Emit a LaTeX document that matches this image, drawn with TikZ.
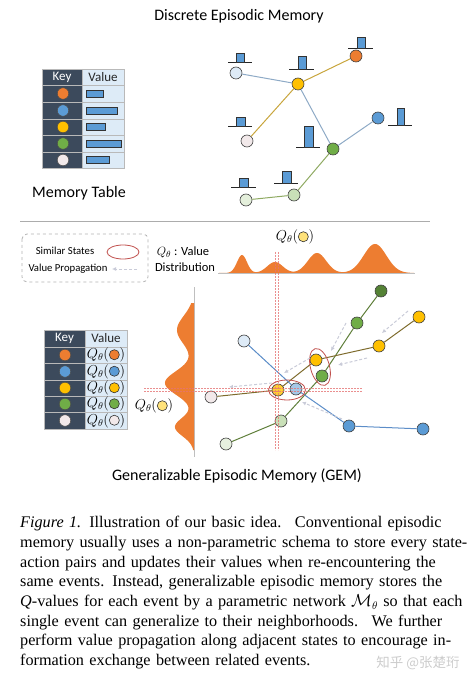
\documentclass[tikz,border=0pt]{standalone}
\usepackage{fontspec}
\setmainfont{Liberation Serif}
\newfontfamily\calib{Carlito}
\newfontfamily\cjkfont{Noto Sans CJK SC}
\usepackage{tikz}
\usetikzlibrary{arrows.meta}

\definecolor{keyorange}{HTML}{ED7D31}
\definecolor{keyblue}{HTML}{5B9BD5}
\definecolor{keyyellow}{HTML}{FFC000}
\definecolor{keygreen}{HTML}{70AD47}
\definecolor{keypale}{HTML}{F2E9EA}
\definecolor{paleblue}{HTML}{DEEBF7}
\definecolor{palegreen}{HTML}{C9E0B8}
\definecolor{darkgreen}{HTML}{548235}
\definecolor{softyellow}{HTML}{FFE27A}
\definecolor{tabledark}{HTML}{3C4A5C}
\definecolor{tablelight}{HTML}{DDEBF7}
\definecolor{linkblue}{HTML}{8EAAC6}
\definecolor{linkyellow}{HTML}{C8A53C}
\definecolor{linkgreen}{HTML}{8FAA62}
\definecolor{chaingreen}{HTML}{5F7F3A}
\definecolor{chainyellow}{HTML}{7E6B2C}
\definecolor{chainblue}{HTML}{5C8DC8}
\definecolor{simred}{HTML}{C0504D}
\definecolor{guidered}{HTML}{E57373}
\definecolor{propgray}{HTML}{C9CBD8}
\definecolor{distorange}{HTML}{ED7D31}

\newcommand{\qdot}[1]{$Q_\theta($\tikz[baseline=-0.6ex]\draw[fill=#1, draw=black!80, line width=0.6pt] (0,0) circle (0.36em);$)$}

\tikzset{
  statenode/.style={circle, draw=black!75, line width=0.6pt, minimum size=12pt, inner sep=0pt},
  keydot/.style={circle, draw=black!70, line width=0.5pt, minimum size=11.5pt, inner sep=0pt},
  valbar/.style={fill=keyblue, draw=black!80, line width=0.5pt},
  histbase/.style={line width=0.9pt, black!85},
  link/.style={line width=1pt},
  prop/.style={draw=propgray, line width=1pt, dash pattern=on 3pt off 2pt, -{Latex[length=4pt,width=4pt]}},
  similar/.style={draw=simred, line width=0.8pt},
  guide/.style={draw=guidered, line width=0.5pt, dash pattern=on 2pt off 1pt, opacity=0.8},
  tablegrid/.style={draw=gray!55, line width=0.8pt},
  heading/.style={font=\calib\fontsize{16}{18}\selectfont},
  cellfont/.style={font=\calib\fontsize{13}{15}\selectfont},
  qfont/.style={font=\fontsize{14}{16}\selectfont},
}

\begin{document}
\begin{tikzpicture}[x=1pt, y=-1pt]
      \useasboundingbox (0,0) rectangle (474,684);

      % discrete episodic memory
      \node[heading] (dtitle) at (239,16) {Discrete Episodic Memory};

      \fill[tabledark] (42,69) rectangle (82,168);
      \fill[tablelight] (82,69) rectangle (124,168);
      \draw[tablegrid] (42,85) -- (124,85);
      \draw[tablegrid] (42,102) -- (124,102);
      \draw[tablegrid] (42,119) -- (124,119);
      \draw[tablegrid] (42,135) -- (124,135);
      \draw[tablegrid] (42,152) -- (124,152);
      \draw[tablegrid] (82,69) -- (82,168);
      \draw[tablegrid] (42,69) rectangle (124,168);
      \node[cellfont, text=white] (tkey) at (62,77) {Key};
      \node[cellfont, text=black!85] (tval) at (103,77) {Value};
      \node[keydot, fill=keyorange] (tk1) at (63,93.5) {};
      \node[keydot, fill=keyblue] (tk2) at (63,110.5) {};
      \node[keydot, fill=keyyellow] (tk3) at (63,127) {};
      \node[keydot, fill=keygreen] (tk4) at (63,143.5) {};
      \node[keydot, fill=keypale] (tk5) at (63,160) {};
      \draw[valbar] (86,90) rectangle (103,97);
      \draw[valbar] (86,107) rectangle (117,114);
      \draw[valbar] (86,123.5) rectangle (105,130.5);
      \draw[valbar] (86,140) rectangle (121,147);
      \draw[valbar] (86,156.5) rectangle (109,163.5);
      \node[heading] (mtable) at (79,193) {Memory Table};

      \node[statenode, fill=paleblue] (ta) at (236,73) {};
      \node[statenode, fill=keyyellow] (ty) at (298,84) {};
      \node[statenode, fill=keyorange] (to) at (356,56) {};
      \node[statenode, fill=keypale] (tp) at (247,141) {};
      \node[statenode, fill=keygreen] (tg) at (333,149) {};
      \node[statenode, fill=keyblue] (tb) at (378,118) {};
      \node[statenode, fill=palegreen] (tl) at (294,195) {};
      \node[statenode, fill=palegreen!50] (tm) at (246,200) {};
      \draw[link, linkblue] (ta) -- (ty);
      \draw[link, linkyellow] (ty) -- (to);
      \draw[link, linkyellow] (ty) -- (tp);
      \draw[link, linkblue] (ty) -- (tg);
      \draw[link, linkblue] (tg) -- (tb);
      \draw[link, linkgreen] (tg) -- (tl);
      \draw[link, linkgreen] (tl) -- (tm);

      \draw[histbase] (228,62) -- (252,62);
      \draw[valbar] (236,62) rectangle (244,53);
      \draw[histbase] (289,69) -- (314,69);
      \draw[valbar] (298,69) rectangle (306,56);
      \draw[histbase] (348,48) -- (373,48);
      \draw[valbar] (357,48) rectangle (365,37);
      \draw[histbase] (228,126) -- (252,126);
      \draw[valbar] (236,126) rectangle (245,117);
      \draw[histbase] (296,147) -- (320,147);
      \draw[valbar] (304,147) rectangle (313,126);
      \draw[histbase] (388,125) -- (412,125);
      \draw[valbar] (397,125) rectangle (404,108);
      \draw[histbase] (231,187) -- (256,187);
      \draw[valbar] (239,187) rectangle (248,178);
      \draw[histbase] (274,183) -- (298,183);
      \draw[valbar] (282,183) rectangle (291,171);

      \draw[gray!65, line width=0.8pt] (20,221) -- (430,221);

      % generalizable episodic memory
      \draw[gray!60, line width=0.8pt, dashed, rounded corners=5pt] (22,234) rectangle (148,282);
      \node[font=\calib\fontsize{10.7}{12}\selectfont] (lsim) at (65,251) {Similar States};
      \draw[similar] (123,252) ellipse [x radius=16, y radius=7];
      \node[font=\calib\fontsize{10.7}{12}\selectfont] (lprop) at (68,269) {Value Propagation};
      \coordinate (lps) at (137,269);
      \coordinate (lpe) at (112,269);
      \draw[prop] (lps) -- (lpe);
      \node[font=\calib\fontsize{12.5}{14}\selectfont] (qv) at (183,252) {$Q_\theta$ : Value};
      \node[font=\calib\fontsize{12.5}{14}\selectfont] (qd) at (185,267) {Distribution};

      \draw[gray!50, line width=0.6pt] (218,273) -- (415,273);
      \fill[distorange] plot[domain=219:414, samples=220] (\x, {273 - 18*exp(-min(((\x-242)/7)^2,9)) - 11*exp(-min(((\x-275)/11)^2,9)) - 20*exp(-min(((\x-317)/13)^2,9)) - 29*exp(-min(((\x-375)/16)^2,9))}) -- cycle;
      \node[qfont] (qtop) at (295,237) {\qdot{softyellow}};

      \draw[gray!50, line width=0.6pt] (194,287) -- (194,457);
      \fill[distorange] plot[domain=303:450, samples=200] ({194 - 17*exp(-min(((\x-330)/20)^2,9)) - 29*exp(-min(((\x-383)/17)^2,9)) - 19*exp(-min(((\x-427)/13)^2,9))}, \x) -- (194,450) -- (194,303) -- cycle;
      \node[qfont] (qleft) at (154,406) {\qdot{softyellow}};

      \fill[tabledark] (44,330) rectangle (85,429);
      \fill[tablelight] (85,330) rectangle (127,429);
      \draw[tablegrid] (44,347) -- (127,347);
      \draw[tablegrid] (44,363) -- (127,363);
      \draw[tablegrid] (44,380) -- (127,380);
      \draw[tablegrid] (44,396) -- (127,396);
      \draw[tablegrid] (44,412) -- (127,412);
      \draw[tablegrid] (85,330) -- (85,429);
      \draw[tablegrid] (44,330) rectangle (127,429);
      \node[cellfont, text=white] (bkey) at (64.5,338.5) {Key};
      \node[cellfont, text=black!85] (bval) at (106,338.5) {Value};
      \node[keydot, fill=keyorange] (bk1) at (65,355) {};
      \node[keydot, fill=keyblue] (bk2) at (65,371.5) {};
      \node[keydot, fill=keyyellow] (bk3) at (65,388) {};
      \node[keydot, fill=keygreen] (bk4) at (65,404) {};
      \node[keydot, fill=keypale] (bk5) at (65,420.5) {};
      \node[qfont] (bv1) at (106,355) {\qdot{keyorange}};
      \node[qfont] (bv2) at (106,371.5) {\qdot{keyblue}};
      \node[qfont] (bv3) at (106,388) {\qdot{keyyellow}};
      \node[qfont] (bv4) at (106,404) {\qdot{keygreen}};
      \node[qfont] (bv5) at (106,420.5) {\qdot{keypale}};

      \node[statenode, fill=darkgreen] (bdg) at (381,291) {};
      \node[statenode, fill=keygreen] (bg2) at (357,323) {};
      \node[statenode, fill=keyyellow] (by1) at (419,317) {};
      \node[statenode, fill=keyyellow] (by2) at (379,346) {};
      \node[statenode, fill=paleblue] (blb) at (244,341) {};
      \node[statenode, fill=keyyellow] (by3) at (316,360) {};
      \node[statenode, fill=keygreen] (bg3) at (322,376) {};
      \node[statenode, fill=keyyellow!80] (by4) at (278,390) {};
      \node[statenode, fill=keyblue!55] (bbl) at (296,389) {};
      \node[statenode, fill=keypale] (bp) at (211,397) {};
      \node[statenode, fill=palegreen] (blg1) at (281,421) {};
      \node[statenode, fill=palegreen!45] (blg2) at (226,444) {};
      \node[statenode, fill=keyblue] (bb1) at (349,426) {};
      \node[statenode, fill=keyblue] (bb2) at (423,429) {};
      \draw[link, chaingreen] (bdg) -- (bg2);
      \draw[link, chaingreen] (bg2) -- (bg3);
      \draw[link, chaingreen] (bg3) -- (blg1);
      \draw[link, chaingreen] (blg1) -- (blg2);
      \draw[link, chainyellow] (by1) -- (by2);
      \draw[link, chainyellow] (by2) -- (by3);
      \draw[link, chainyellow] (by3) -- (by4);
      \draw[link, chainyellow] (by4) -- (bp);
      \draw[link, chainblue] (blb) -- (bbl);
      \draw[link, chainblue] (bbl) -- (bb1);
      \draw[link, chainblue] (bb1) -- (bb2);

      \draw[similar] (287,390) ellipse [x radius=18.5, y radius=10];
      \draw[similar, rotate around={15:(320,367)}] (320,367) ellipse [x radius=9.5, y radius=19];

      \coordinate (p1s) at (408,311);
      \coordinate (p1e) at (382,333);
      \coordinate (p2s) at (346,323);
      \coordinate (p2e) at (331,351);
      \coordinate (p3s) at (367,358);
      \coordinate (p3e) at (338,365);
      \coordinate (p4s) at (310,358);
      \coordinate (p4e) at (284,373);
      \coordinate (p5s) at (272,383);
      \coordinate (p5e) at (229,387);
      \coordinate (p6s) at (342,419);
      \coordinate (p6e) at (302,402);
      \draw[prop] (p1s) -- (p1e);
      \draw[prop] (p2s) -- (p2e);
      \draw[prop] (p3s) -- (p3e);
      \draw[prop] (p4s) -- (p4e);
      \draw[prop] (p5s) -- (p5e);
      \draw[prop] (p6s) -- (p6e);

      \draw[guide] (275.5,252) -- (275.5,450);
      \draw[guide] (278.5,252) -- (278.5,450);
      \draw[guide] (144,388) -- (362,388);
      \draw[guide] (144,391) -- (362,391);

      \node[heading] (gtitle) at (237,476) {Generalizable Episodic Memory (GEM)};

      % caption
      \node[anchor=north west, inner sep=0pt, text width=423pt, font=\fontsize{16.2}{19.7}\selectfont] (caption) at (20,516) {%
        \makebox[423pt][s]{\textit{Figure 1.} Illustration of our basic idea. \ Conventional episodic}\\
        \makebox[423pt][s]{memory usually uses a non-parametric schema to store every state-}\\
        \makebox[423pt][s]{action pairs and updates their values when re-encountering the}\\
        \makebox[423pt][s]{same events. Instead, generalizable episodic memory stores the}\\
        \makebox[423pt][s]{\textit{Q}-values for each event by a parametric network $\mathcal{M}_\theta$ so that each}\\
        \makebox[423pt][s]{single event can generalize to their neighborhoods. \ We further}\\
        \makebox[423pt][s]{perform value propagation along adjacent states to encourage in-}\\
        \makebox[423pt][l]{formation exchange between related events.}};
      \node[text=gray!40, font=\cjkfont\fontsize{13.5}{16}\selectfont] (wmark) at (418,663) {知乎 @张楚珩};
    \end{tikzpicture}
\end{document}
